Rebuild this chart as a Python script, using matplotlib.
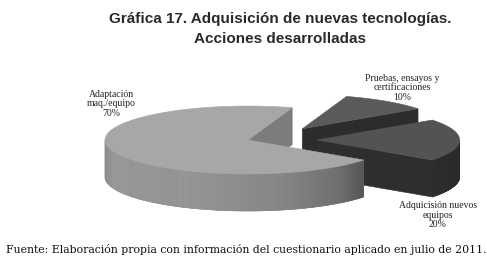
import matplotlib
matplotlib.use("Agg")
import matplotlib.pyplot as plt
import numpy as np
from matplotlib.patches import Polygon

# data
labels = ["Adaptación\nmaq./equipo", "Adquicisión nuevos\nequipos", "Pruebas, ensayos y\ncertificaciones"]
values = [70, 20, 10]

title = "Gráfica 17. Adquisición de nuevas tecnologías.\nAcciones desarrolladas"
source = "Fuente: Elaboración propia con información del cuestionario aplicado en julio de 2011."

# pie geometry (pixels)
cx, cy = 248, 140
rx, ry = 143, 34
depth = 37
start = 72.0
# explode vectors in ellipse units, one per slice
explode = [(0.0, 0.0), (0.48, 0.0), (0.38, 0.33)]
top_cols = ["#a7a7a7", "#535353", "#5a5a5a"]
rad_cols = ["#7c7c7c", "#2e2e2e", "#2c2c2c"]
# lightness stops for the curved side (angle deg, gray level)
side_stops = [
    ([180, 200, 250, 285, 310, 324], [0.54, 0.60, 0.58, 0.52, 0.43, 0.33]),
    ([324, 345, 360], [0.18, 0.17, 0.16]),
    ([36, 72], [0.18, 0.18]),
]
label_pos = [(111, 104), (438, 215), (402, 88)]

fig = plt.figure(figsize=(4.87, 2.61), dpi=100)
ax = fig.add_axes([0, 0, 1, 1])
ax.set_xlim(0, 487)
ax.set_ylim(261, 0)
ax.axis("off")


def pt(x0, y0, t, r=1.0):
    return (x0 + rx * r * np.cos(t), y0 - ry * r * np.sin(t))


def poly(points, col, z, lw=0.4):
    ax.add_patch(Polygon(points, closed=True, facecolor=col, edgecolor=col if lw else "none",
                         lw=lw, zorder=z))


# slice angles
angles = []
a = start
for v in values:
    span = 360.0 * v / sum(values)
    angles.append((a, a + span))
    a += span

order = [2, 1, 0]  # back to front
for zi, i in enumerate(order):
    a0, a1 = angles[i]
    ex, ey = explode[i]
    x0 = cx + ex * rx
    y0 = cy - ey * ry
    z = 1 + zi * 10
    t0, t1 = np.radians(a0), np.radians(a1)
    c0 = pt(x0, y0, t0)
    c1 = pt(x0, y0, t1)
    # radial faces
    if np.cos(t0) > 0:
        poly([(x0, y0), c0, (c0[0], c0[1] + depth), (x0, y0 + depth)], rad_cols[i], z)
    if np.cos(t1) < 0:
        poly([(x0, y0), c1, (c1[0], c1[1] + depth), (x0, y0 + depth)], rad_cols[i], z)
    # curved side, front half only
    ts = np.linspace(a0, a1, 160)
    front = [t for t in ts if np.sin(np.radians(t)) < 0]
    if front:
        stops_a, stops_g = side_stops[i]
        upper = [pt(x0, y0, np.radians(t)) for t in front]
        lower = [(p[0], p[1] + depth) for p in upper[::-1]]
        gm = float(np.mean(stops_g))
        poly(upper + lower, (gm, gm, gm), z + 1)
        for ta, tb in zip(front[:-1], front[1:]):
            tm = (ta + tb) / 2
            key = tm % 360 if i == 0 else (tm if tm >= 300 else tm + 360)
            g = np.interp(key, stops_a, stops_g)
            pa = pt(x0, y0, np.radians(ta))
            pb = pt(x0, y0, np.radians(tb))
            poly([pa, pb, (pb[0], pb[1] + depth), (pa[0], pa[1] + depth)], (g, g, g), z + 1, lw=0.3)
    # top face
    tt = np.radians(np.linspace(a0, a1, 200))
    pts = [(x0, y0)] + [pt(x0, y0, t) for t in tt]
    poly(pts, top_cols[i], z + 2)

serif = "Liberation Serif"
for i, lab in enumerate(labels):
    x, y = label_pos[i]
    ax.text(x, y, f"{lab}\n{values[i]}%", ha="center", va="center", fontsize=7.0,
            family=serif, color="#222222", linespacing=1.1, zorder=50)

t1, t2 = title.split("\n")
ax.text(280, 23, t1, ha="center", va="baseline", fontsize=11, fontweight="bold",
        family="Liberation Sans", color="#2a2a2a")
ax.text(280, 43, t2, ha="center", va="baseline", fontsize=11, fontweight="bold",
        family="Liberation Sans", color="#2a2a2a")
ax.text(246, 253, source, ha="center", va="baseline", fontsize=7.8, family="DejaVu Serif",
        color="#111111")

fig.savefig("out.png", dpi=100)
